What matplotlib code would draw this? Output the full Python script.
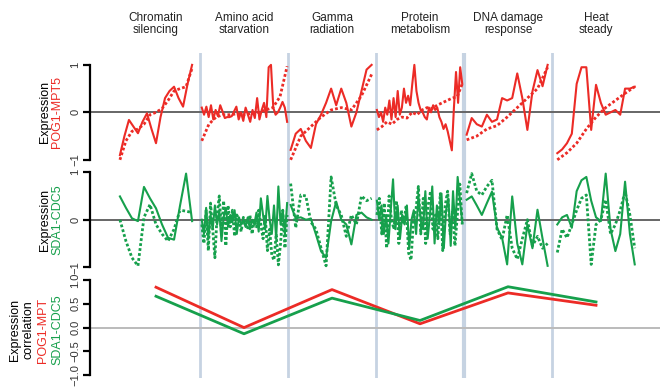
import numpy as np
import matplotlib
matplotlib.use("Agg")
import matplotlib.pyplot as plt

plt.rcParams['font.family'] = ['Liberation Sans', 'DejaVu Sans']

RED = '#ec2b26'
GREEN = '#16a04c'
SEP = '#c6d3e2'

conditions = ["Chromatin\nsilencing", "Amino acid\nstarvation", "Gamma\nradiation",
              "Protein\nmetabolism", "DNA damage\nresponse", "Heat\nsteady"]

# expression of POG1-MPT5 pair (solid / dotted), one list per condition
red_solid = [
    [-0.9, -0.5, -0.16, -0.3, -0.44, -0.2, -0.02, -0.35, -0.65, -0.1, 0.3, 0.45, 0.54, 0.3, 0.12, 0.6, 1.0],
    [0.1, -0.05, 0.12, -0.1, 0.15, -0.15, 0.05, -0.08, 0.15, 0.02, -0.12, -0.1, -0.1, -0.08, 0.02,
     0.12, -0.15, 0.0, -0.18, 0.1, -0.05, -0.2, 0.05, -0.12, 0.3, -0.15, 0.05, 0.2, -0.1, 0.95,
     1.0, 0.1, -0.05, 0.0, 0.1, 0.22, 0.1, -0.2],
    [-0.79, -0.45, -0.35, -0.6, -0.75, -0.25, -0.05, 0.2, 0.5, 0.15, 0.5, 0.2, -0.3, 0.0, 0.45, 0.9, 1.0],
    [0.05, -0.1, 0.0, -0.2, 0.1, -0.05, 0.25, -0.15, 0.3, -0.1, 0.45, -0.05, 0.1, 0.5, 0.2, 0.35,
     0.15, 0.6, 1.0, 0.45, 0.2, 0.05, 0.0, -0.1, -0.15, 0.1, 0.0, 0.15, 0.05, 0.1, -0.1, -0.2,
     -0.35, -0.25, -0.4, -0.6, -0.8, 0.1, 0.85, 0.2, 0.95, 0.6],
    [-0.47, -0.12, -0.25, -0.3, -0.05, -0.2, -0.15, 0.3, 0.25, 0.3, 0.82, 0.3, -0.37, 0.44, 0.89, 0.55, 1.0],
    [-0.86, -0.78, -0.65, -0.45, 0.6, 0.95, 0.95, -0.37, 0.58, 0.2, -0.05, 0.0, 0.05, -0.05, 0.5, 0.5, 0.54],
]
red_dotted = [
    [-1.0, -0.6, -0.4, -0.35, -0.25, -0.05, 0.0, 0.08, 0.25, 0.45, 0.5, 0.54, 0.93],
    [-0.6, -0.25, -0.1, -0.05, -0.05, -0.03, -0.05, -0.02, 0.0, 0.05, 0.1, 0.33, 0.97],
    [-1.0, -0.5, -0.3, -0.1, 0.05, 0.1, 0.05, 0.35, 0.8],
    [-0.37, -0.3, -0.2, -0.25, -0.15, -0.1, -0.12, 0.0, -0.05, 0.05, 0.1, 0.08, 0.15, 0.2, 0.25, 0.3, 0.33, 0.6],
    [-0.58, -0.5, -0.35, -0.28, -0.1, 0.1, 0.3, 0.5, 0.95],
    [-1.0, -0.85, -0.65, -0.35, -0.1, 0.1, 0.25, 0.4, 0.54],
]

# expression of SDA1-CDC5 pair
green_solid = [
    [0.49, 0.25, 0.03, -0.03, 0.69, 0.45, 0.24, -0.1, -0.38, -0.42, 0.3, 0.97, -0.03],
    [0.0, -0.3, 0.25, -0.4, 0.1, -0.2, 0.3, -0.1, 0.2, -0.45, 0.05, 0.25, -0.15, 0.1, -0.05, 0.2,
     -0.3, 0.05, -0.1, 0.0, -0.15, 0.05, -0.2, 0.0, -0.1, 0.15, -0.25, 0.45, 0.1, -0.2, 0.5, 0.0,
     -0.3, 0.3, -0.4, 0.7, -0.1, 0.2, -0.3, 0.35],
    [0.31, 0.03, 0.05, 0.0, 0.02, -0.31, -0.66, -0.8, -0.03, 0.38, 0.0, -0.1, -0.52, 0.1, 0.15, 0.05, 0.0],
    [0.4, 0.0, 0.3, -0.3, 0.1, -0.5, 0.2, 0.85, -0.2, 0.3, -0.4, 0.1, -0.1, 0.3, -0.6, 0.0, 0.2,
     -0.3, 0.5, 0.0, -0.2, 0.6, -0.4, 0.1, 0.7, -0.5, 0.3, -0.1, 0.55, -0.6, 0.2, 0.45, -0.55,
     0.6, -0.2, 0.9, 0.4, -0.05],
    [0.42, 0.49, 0.3, 0.1, 0.35, 0.59, -0.17, -0.38, -0.94, 0.49, -0.5, -0.94, -0.1, -0.6, 0.21, -0.4, -0.97],
    [-0.1, 0.05, 0.1, -0.17, 0.6, 0.83, 0.9, 0.4, 0.05, -0.03, 0.97, -0.2, -0.66, -0.3, 0.8, -0.3, -0.94],
]
green_dotted = [
    [0.0, -0.45, -0.8, -0.97, 0.05, 0.32, -0.1, -0.3, -0.45, -0.2, 0.2, 0.18, 0.15],
    [-0.1, -0.5, 0.2, -0.65, 0.35, -0.2, -0.8, 0.1, 0.5, -0.3, 0.4, -0.55, 0.3, -0.15, 0.2, -0.35,
     0.1, 0.0, -0.25, 0.05, -0.1, -0.2, 0.1, -0.3, 0.0, -0.15, 0.2, -0.1, -0.4, 0.1, -0.65, -0.2,
     -0.75, -0.85, -0.3, -0.95, -0.5, 0.2, -0.6, 0.1],
    [0.76, -0.17, 0.52, 0.5, -0.05, -0.2, -0.59, -0.97, 0.9, 0.3, 0.1, -0.35, 0.1, -0.1, 0.5, 0.4, 0.45],
    [0.1, 0.45, -0.3, 0.35, -0.6, 0.5, 0.0, -0.2, 0.4, -0.5, 0.2, -0.1, 0.3, -0.7, -0.85, 0.0, 0.2,
     0.7, -0.3, 0.45, -0.5, 0.3, 0.6, -0.2, 0.1, -0.4, 0.55, -0.65, 0.3, 0.6, -0.3, 0.2, -0.55,
     0.1, 0.75, -0.1],
    [0.56, 0.97, 0.6, 0.52, 0.7, 0.83, -0.2, -0.42, 0.1, -0.6, -0.83, -0.4, 0.0, -0.55, -0.35, -0.6, -0.5],
    [-0.69, -0.2, -0.38, -0.1, 0.2, 0.45, 0.52, -0.94, -0.1, 0.0, 0.42, -0.3, -0.1, 0.2, 0.59, 0.1, -0.6],
]

# expression correlation per condition
corr_pog1 = [0.85, 0.0, 0.8, 0.08, 0.73, 0.47]
corr_sda1 = [0.66, -0.13, 0.62, 0.15, 0.86, 0.54]

# where each condition's curve sits along x (condition i lives in [i, i+1])
spans = [(0.09, 0.91), (1.02, 1.99), (2.03, 2.95), (3.01, 3.98), (4.03, 4.95), (5.06, 5.94)]

W, H = 660, 387
fig = plt.figure(figsize=(W / 100, H / 100), dpi=100)


def box(top, bottom):
    return [90 / W, 1 - bottom / H, 570 / W, (bottom - top) / H]


ax1 = fig.add_axes(box(53, 166))
ax2 = fig.add_axes(box(166, 272))
ax3 = fig.add_axes(box(272, 378))

xlim = (-0.25, 6.227)
for ax, ylim in [(ax1, (-1.13, 1.25)), (ax2, (-1.1, 1.13)), (ax3, (-1.06, 1.17))]:
    ax.set_xlim(*xlim)
    ax.set_ylim(*ylim)
    ax.patch.set_alpha(0)
    for s in ['top', 'right', 'bottom']:
        ax.spines[s].set_visible(False)
    ax.spines['left'].set_bounds(-1, 1)
    ax.spines['left'].set_linewidth(1.6)
    ax.set_xticks([])
    ax.tick_params(axis='y', direction='out', length=5, width=1.6, labelsize=8,
                   labelcolor='#333333', pad=2)
    for b in range(1, 6):
        ax.axvline(b, color=SEP, lw=3 if b == 4 else 2, zorder=0)

for ax in (ax1, ax2):
    ax.set_yticks([-1, 0, 1])
    ax.set_yticklabels(['\u22121', '0', '1'], rotation=90, va='center')
    ax.axhline(0, color='#666666', lw=1.4, zorder=1)

ax3.set_yticks([-1, -0.5, 0, 0.5, 1])
ax3.set_yticklabels(['\u22121.0', '\u22120.5', '0.0', '0.5', '1.0'], rotation=90, va='center')
ax3.axhline(0, color='#bbbbbb', lw=1.4, zorder=1)

dots = (0, (1, 0.8))
for i, (a, b) in enumerate(spans):
    for ax, solid, dotted, col in [(ax1, red_solid[i], red_dotted[i], RED),
                                   (ax2, green_solid[i], green_dotted[i], GREEN)]:
        ax.plot(np.linspace(a, b, len(dotted)), dotted, color=col, lw=2, ls=dots, zorder=2)
        ax.plot(np.linspace(a, b, len(solid)), solid, color=col, lw=1.5, zorder=3)

centers = np.arange(len(conditions)) + 0.5
ax3.plot(centers, corr_pog1, color=RED, lw=2, zorder=3)
ax3.plot(centers, corr_sda1, color=GREEN, lw=2, zorder=3)

# condition titles
for i, name in enumerate(conditions):
    x = (112 + (i + 0.5) * 88) / W
    fig.text(x, 1 - 24 / H, name, ha='center', va='center', fontsize=8.5,
             linespacing=1.0, color='#222222')

# y labels
def ylab(x, y, s, c):
    fig.text(x / W, 1 - y / H, s, rotation=90, ha='center', va='center',
             fontsize=9, color=c)

ylab(45, 112, 'Expression', 'black')
ylab(57, 112, 'POG1-MPT5', RED)
ylab(45, 220, 'Expression', 'black')
ylab(57, 220, 'SDA1-CDC5', GREEN)
ylab(15, 330, 'Expression', 'black')
ylab(29, 330, 'correlation', 'black')
ylab(43, 330, 'POG1-MPT', RED)
ylab(57, 330, 'SDA1-CDC5', GREEN)

fig.savefig('out.png', dpi=100)
